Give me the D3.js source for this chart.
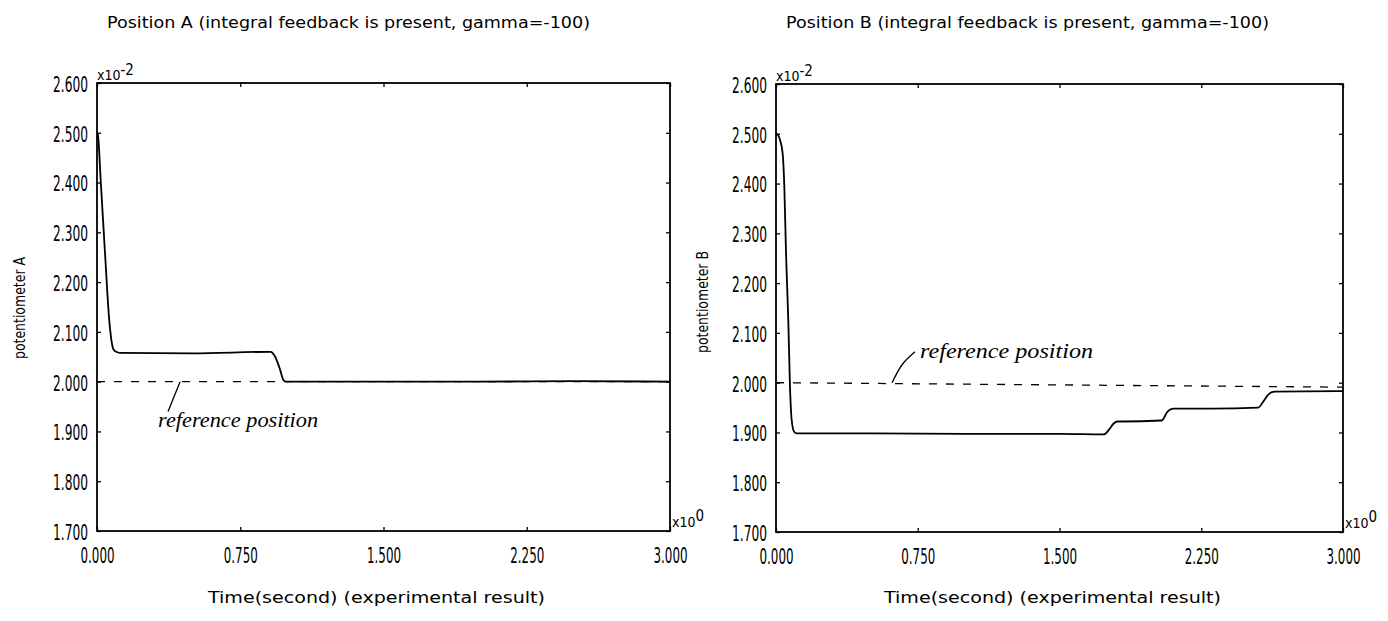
<!DOCTYPE html>
<html>
<head>
<meta charset="utf-8">
<script src="https://cdn.jsdelivr.net/npm/d3@7"></script>
<style>
  body { margin: 0; background: #fff; }
  svg { display: block; }
  text { fill: #000; }
</style>
</head>
<body>
<div id="chart"></div>
<script>
// position A (seconds, x10^-2)
var timeA = [0, 0.005, 0.02, 0.042, 0.064, 0.085, 0.1, 0.12, 0.5, 0.91, 0.93, 0.958, 0.975, 0.99, 1.5, 2.0, 2.5, 3.0];
var posA  = [2.50, 2.495, 2.40, 2.258, 2.124, 2.066, 2.060, 2.058, 2.057, 2.060, 2.052, 2.025, 2.004, 2.0, 2.0, 2.0, 2.001, 2.0];

// position B
var timeB = [0, 0.01, 0.021, 0.035, 0.044, 0.053, 0.065, 0.074, 0.083, 0.095, 0.11, 0.5, 1.0, 1.5, 1.735, 1.761, 1.787, 1.805, 1.83,
             2.04, 2.051, 2.068, 2.086, 2.104, 2.3, 2.552, 2.578, 2.605, 2.623, 2.64, 3.0];
var posB  = [2.50, 2.498, 2.488, 2.461, 2.394, 2.26, 2.126, 1.992, 1.925, 1.902, 1.898, 1.898, 1.897, 1.897, 1.896, 1.905, 1.918, 1.922, 1.922,
             1.924, 1.928, 1.940, 1.946, 1.948, 1.948, 1.950, 1.962, 1.976, 1.981, 1.982, 1.983];

// dashed reference lines
var refTime = [0, 3];
var refA = [2.0, 2.0];
var refB = [2.0, 1.991];

var xTicks = [0, 0.75, 1.5, 2.25, 3.0];
var yTicks = [1.7, 1.8, 1.9, 2.0, 2.1, 2.2, 2.3, 2.4, 2.5, 2.6];

var titles  = ["Position A (integral feedback is present, gamma=-100)",
               "Position B (integral feedback is present, gamma=-100)"];
var yLabels = ["potentiometer A", "potentiometer B"];
var xLabel  = "Time(second) (experimental result)";
var noteText = "reference position";

// leader line points and text anchor for the hand written notes (data units)
var noteLineA = [[0.435, 2.0], [0.372, 1.94]];
var noteLineB = [[0.614, 2.0], [0.667, 2.036], [0.735, 2.062]];
var noteAtA = [0.32, 1.908];
var noteAtB = [0.762, 2.049];

////////////////////////////////////////////////////////////////////////////////

var width = 1388, height = 621;

var svg = d3.select('#chart').append('svg')
    .attr('width', width)
    .attr('height', height)
    .style('background', '#fff');

var panels = [
    { left: 97, right: 670, top: 83, bottom: 531, time: timeA, pos: posA, ref: refA,
      title: titles[0], ylabel: yLabels[0], ylabelX: 20, ylabelY: 308,
      noteLine: noteLineA, noteAt: noteAtA, noteLen: 160 },
    { left: 776, right: 1343, top: 84, bottom: 532, time: timeB, pos: posB, ref: refB,
      title: titles[1], ylabel: yLabels[1], ylabelX: 703, ylabelY: 302,
      noteLine: noteLineB, noteAt: noteAtB, noteLen: 173 }
];

var tickFont = '"DejaVu Sans Condensed", "DejaVu Sans", sans-serif';
var textFont = '"DejaVu Sans", sans-serif';

// squeeze text horizontally to a given width (keeps its anchor point)
function squeeze(sel, target) {
    sel.each(function() {
        var t = d3.select(this);
        var w = this.getComputedTextLength();
        var s = target / w;
        var x0 = +t.attr('x') || 0;
        t.attr('x', x0 / s).attr('transform', 'scale(' + s + ',1)');
    });
}

panels.forEach(function(p) {
    var x = d3.scaleLinear().domain([0, 3]).range([p.left, p.right]);
    var y = d3.scaleLinear().domain([1.7, 2.6]).range([p.bottom, p.top]);

    var g = svg.append('g');

    // left axis with labels
    var ya = g.append('g')
        .attr('transform', 'translate(' + p.left + ',0)')
        .call(d3.axisLeft(y).tickValues(yTicks).tickSize(-4).tickPadding(9).tickFormat(d3.format('.3f')));
    ya.selectAll('text')
        .attr('font-family', tickFont)
        .attr('font-size', 21)
        .attr('dy', '0.4em')
        .call(squeeze, 35);

    // bottom axis with labels
    var xa = g.append('g')
        .attr('transform', 'translate(0,' + p.bottom + ')')
        .call(d3.axisBottom(x).tickValues(xTicks).tickSize(-4).tickPadding(17).tickFormat(d3.format('.3f')));
    xa.selectAll('text')
        .attr('font-family', tickFont)
        .attr('font-size', 21)
        .call(squeeze, 34);

    // top and right: ticks only
    g.append('g')
        .attr('transform', 'translate(0,' + p.top + ')')
        .call(d3.axisTop(x).tickValues(xTicks).tickSize(-4).tickFormat(''));
    g.append('g')
        .attr('transform', 'translate(' + p.right + ',0)')
        .call(d3.axisRight(y).tickValues(yTicks).tickSize(-4).tickFormat(''));

    g.selectAll('.domain').remove();
    g.selectAll('.tick line').attr('stroke', '#000').attr('stroke-width', 1.3);

    // frame
    g.append('rect')
        .attr('x', p.left)
        .attr('y', p.top)
        .attr('width', p.right - p.left)
        .attr('height', p.bottom - p.top)
        .attr('fill', 'none')
        .attr('stroke', '#000')
        .attr('stroke-width', 1.8);

    var line = d3.line()
        .x(function(d) { return x(d[0]); })
        .y(function(d) { return y(d[1]); });

    // reference (dashed)
    g.append('path')
        .datum(refTime.map(function(t, i) { return [t, p.ref[i]]; }))
        .attr('d', line)
        .attr('fill', 'none')
        .attr('stroke', '#000')
        .attr('stroke-width', 1.3)
        .attr('stroke-dasharray', '8,9');

    // measured response
    g.append('path')
        .datum(p.time.map(function(t, i) { return [t, p.pos[i]]; }))
        .attr('d', line.curve(d3.curveMonotoneX))
        .attr('fill', 'none')
        .attr('stroke', '#000')
        .attr('stroke-width', 1.8)
        .attr('stroke-linejoin', 'round');

    // hand written note
    g.append('path')
        .datum(p.noteLine)
        .attr('d', d3.line()
            .x(function(d) { return x(d[0]); })
            .y(function(d) { return y(d[1]); })
            .curve(d3.curveNatural))
        .attr('fill', 'none')
        .attr('stroke', '#000')
        .attr('stroke-width', 1.3);
    g.append('text')
        .attr('x', x(p.noteAt[0]))
        .attr('y', y(p.noteAt[1]))
        .attr('font-family', '"Liberation Serif", serif')
        .attr('font-style', 'italic')
        .attr('font-size', 22)
        .attr('textLength', p.noteLen)
        .attr('lengthAdjust', 'spacingAndGlyphs')
        .text(noteText);

    // title
    g.append('text')
        .attr('x', p.left + 10)
        .attr('y', 28)
        .attr('font-family', textFont)
        .attr('font-size', 16)
        .attr('textLength', 483)
        .attr('lengthAdjust', 'spacingAndGlyphs')
        .text(p.title);

    // x label
    g.append('text')
        .attr('x', x(1.5) - 7)
        .attr('y', 603)
        .attr('text-anchor', 'middle')
        .attr('font-family', textFont)
        .attr('font-size', 16)
        .attr('textLength', 337)
        .attr('lengthAdjust', 'spacingAndGlyphs')
        .text(xLabel);

    // y label
    g.append('text')
        .attr('transform', 'translate(' + p.ylabelX + ',' + p.ylabelY + ') rotate(-90)')
        .attr('text-anchor', 'middle')
        .attr('dy', '0.35em')
        .attr('font-family', tickFont)
        .attr('font-size', 15)
        .attr('textLength', 102)
        .attr('lengthAdjust', 'spacingAndGlyphs')
        .text(p.ylabel);

    // scale multipliers, x10^-2 on top and x10^0 at the bottom right
    var m1 = g.append('text')
        .attr('x', p.left)
        .attr('y', p.top - 3)
        .attr('font-family', tickFont)
        .attr('font-size', 14);
    m1.append('tspan').text('x10');
    m1.append('tspan').attr('dy', -5).attr('font-size', 15).text('-2');

    var m2 = g.append('text')
        .attr('x', p.right + 2)
        .attr('y', p.bottom - 4)
        .attr('font-family', tickFont)
        .attr('font-size', 14);
    m2.append('tspan').text('x10');
    m2.append('tspan').attr('dy', -6).attr('font-size', 15).text('0');
});
</script>
</body>
</html>
